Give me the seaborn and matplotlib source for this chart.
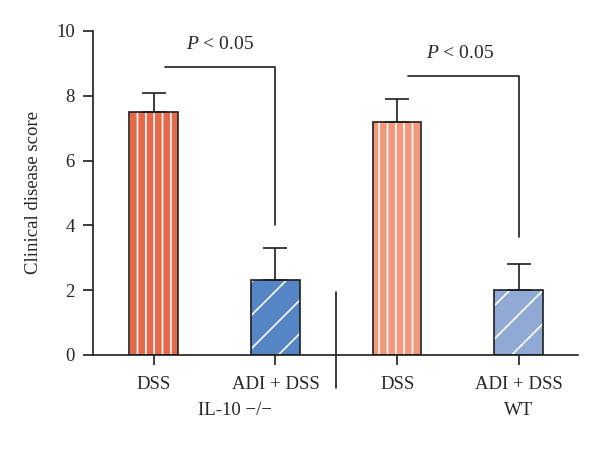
import matplotlib
matplotlib.use("Agg")
import matplotlib.pyplot as plt
from matplotlib.patches import Rectangle
import seaborn as sns
import pandas as pd

# ---- data ----
categories = ["IL10_DSS", "IL10_ADI", "WT_DSS", "WT_ADI"]
tick_labels = ["DSS", "ADI + DSS", "DSS", "ADI + DSS"]
means = [7.5, 2.3, 7.2, 2.0]
errors = [0.6, 1.0, 0.7, 0.8]
group_labels = ["IL-10 \u2212/\u2212", "WT"]
colors = ["#E8694A", "#5585C5", "#F4987B", "#90AAD5"]
hatches = ["||", "/", "||", "/"]
sig_text = "$P$ < 0.05"
# brackets: (x_start, x_end, y_top, y_bottom)
brackets = [(0.09, 1.0, 8.88, 4.0), (2.09, 3.0, 8.6, 3.65)]
sig_pos = [(0.54, 9.57), (2.52, 9.31)]

sns.set_style("ticks")
plt.rcParams["font.family"] = ["Liberation Serif", "DejaVu Serif"]
plt.rcParams["mathtext.fontset"] = "custom"
plt.rcParams["mathtext.it"] = "Liberation Serif:italic"
plt.rcParams["mathtext.rm"] = "Liberation Serif"
plt.rcParams["hatch.color"] = "white"
plt.rcParams["hatch.linewidth"] = 1.2

df = pd.DataFrame({"cat": categories, "val": means})

fig = plt.figure(figsize=(6.0, 4.59), dpi=100)
ax = fig.add_axes([0.155, 0.2266, 0.808, 0.706])

sns.barplot(data=df, x="cat", y="val", hue="cat", order=categories,
            hue_order=categories, palette=colors, width=0.4,
            legend=False, ax=ax, errorbar=None, saturation=1)

for p, h in zip(ax.patches, hatches):
    p.set_hatch(h)
    p.set_edgecolor("white")
    p.set_linewidth(0)
    ax.add_patch(Rectangle(p.get_xy(), p.get_width(), p.get_height(),
                           fill=False, edgecolor="#1e1e1e", linewidth=1.2,
                           zorder=3))

xs = list(range(len(categories)))
ax.errorbar(xs, means, yerr=[[0] * len(errors), errors], fmt="none",
            ecolor="#1e1e1e", elinewidth=1.2, capsize=8.5, capthick=1.2,
            zorder=4)

for (x0, x1, yt, yb) in brackets:
    ax.plot([x0, x1, x1], [yt, yt, yb], color="#1e1e1e", lw=1.2,
            clip_on=False)
for (x, y) in sig_pos:
    ax.text(x, y, sig_text, ha="center", va="center", fontsize=14)

# separator between groups
ax.plot([1.5, 1.5], [1.95, -1.02], color="#1e1e1e", lw=1.2, clip_on=False)

ax.set_xlim(-0.5, 3.485)
ax.set_ylim(0, 10)
ax.set_yticks([0, 2, 4, 6, 8, 10])
ax.set_xticks(xs)
ax.set_xticklabels(tick_labels, fontsize=13.5)
ax.tick_params(axis="y", labelsize=13.5, length=7, width=1.2,
               color="#1e1e1e", pad=6)
ax.tick_params(axis="x", length=7, width=1.2, color="#1e1e1e", pad=8)
ax.set_xlabel("")
ax.set_ylabel("Clinical disease score", fontsize=13.5, labelpad=10)
for s in ["left", "bottom"]:
    ax.spines[s].set_linewidth(1.2)
    ax.spines[s].set_color("#1e1e1e")
sns.despine(ax=ax)

ax.text(0.665, -1.72, group_labels[0], ha="center", va="center", fontsize=13.5)
ax.text(3.0, -1.72, group_labels[1], ha="center", va="center", fontsize=13.5)

fig.savefig("out.png", dpi=100)
